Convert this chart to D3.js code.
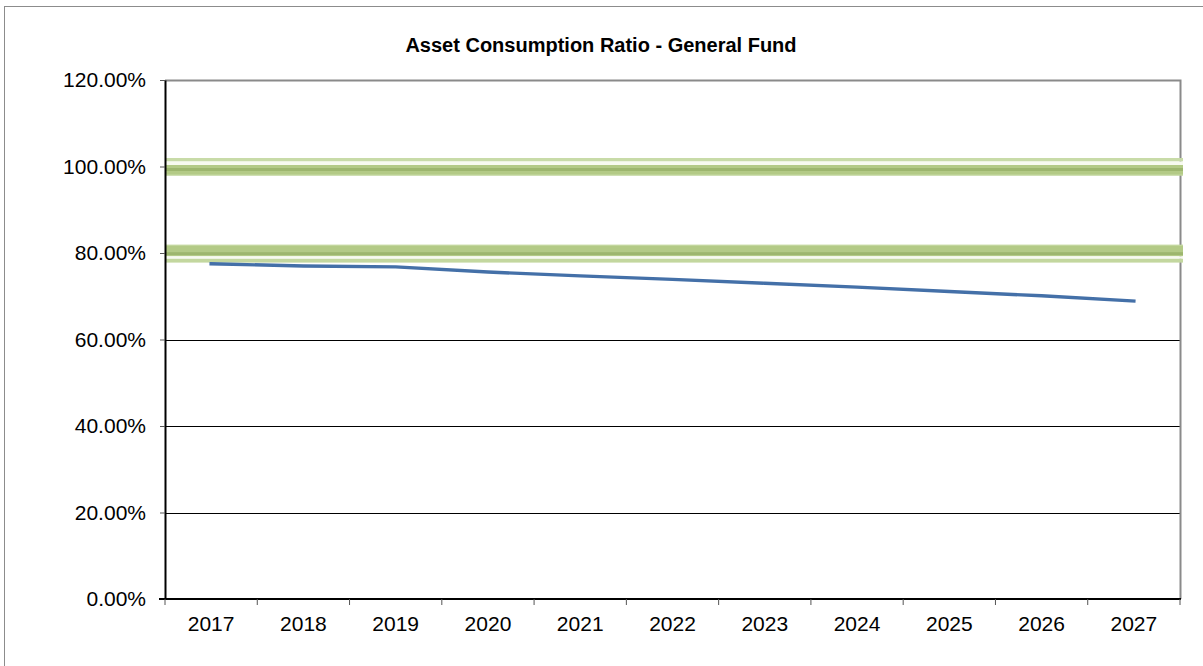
<!DOCTYPE html>
<html>
<head>
<meta charset="utf-8">
<script src="https://cdn.jsdelivr.net/npm/d3@7"></script>
<style>
  html, body { margin: 0; padding: 0; background: #fff; }
  svg { display: block; font-family: "Liberation Sans", Arial, sans-serif; }
</style>
</head>
<body>
<svg id="chart" width="1203" height="666"></svg>
<script>
// Years along the category axis
const years = ["2017","2018","2019","2020","2021","2022","2023","2024","2025","2026","2027"];
// Asset consumption ratio per year (fraction)
const ratio = [0.775, 0.770, 0.768, 0.756, 0.747, 0.739, 0.730, 0.721, 0.711, 0.701, 0.689];
// Benchmark band levels
const benchmarks = [1.00, 0.80];
// Value axis ticks
const yTicks = [0, 0.2, 0.4, 0.6, 0.8, 1.0, 1.2];

const svg = d3.select("#chart");
const W = 1203, H = 666;
const plot = { left: 165, right: 1180, top: 80, bottom: 599 };

// outer chart frame
svg.append("rect")
  .attr("x", 4.5).attr("y", 6.5)
  .attr("width", W + 10).attr("height", H + 10)
  .attr("fill", "#fff").attr("stroke", "#8c8c8c").attr("stroke-width", 1);

const x = d3.scaleBand().domain(years).range([plot.left, plot.right]).padding(0);
const y = d3.scaleLinear().domain([0, 1.2]).range([plot.bottom, plot.top]);

// title
svg.append("text")
  .attr("x", 601).attr("y", 52)
  .attr("text-anchor", "middle")
  .attr("font-weight", "bold")
  .attr("font-size", 20)
  .attr("fill", "#000")
  .text("Asset Consumption Ratio - General Fund");

// horizontal gridlines
svg.append("g").selectAll("line")
  .data(yTicks.filter(d => d > 0 && d < 1.2))
  .join("line")
  .attr("x1", plot.left).attr("x2", plot.right)
  .attr("y1", d => Math.round(y(d)) + 0.5).attr("y2", d => Math.round(y(d)) + 0.5)
  .attr("stroke", "#000").attr("stroke-width", 1);

// plot area border (top & right in grey)
svg.append("path")
  .attr("d", `M${plot.left},${plot.top + 0.5} H${plot.right + 0.5} V${plot.bottom}`)
  .attr("fill", "none").attr("stroke", "#8a8a8a").attr("stroke-width", 2);

// benchmark bands: layered stripes (offsets from the level, in px)
const bandLayers = [
  // upper benchmark: pale edge, highlight above, body below with darker core
  [
    { y0: -8.5, y1: -5.0, fill: "#c8dba8" },
    { y0: -5.0, y1: -1.5, fill: "#f7faef" },
    { y0: -1.5, y1:  9.0, fill: "#b3ca86" },
    { y0:  1.5, y1:  4.5, fill: "#9db66e" },
    { y0:  8.0, y1:  9.0, fill: "#c6d9a4" }
  ],
  // lower benchmark: body above with darker core, highlight below, pale edge
  [
    { y0: -8.2, y1:  3.3, fill: "#b3ca86" },
    { y0: -8.2, y1: -7.2, fill: "#c6d9a4" },
    { y0: -0.8, y1:  2.0, fill: "#9db66e" },
    { y0:  3.3, y1:  5.8, fill: "#f7faef" },
    { y0:  5.8, y1:  9.6, fill: "#c3d79f" }
  ]
];
const bandRight = plot.right + 3;
const bands = svg.append("g");
benchmarks.forEach((v, i) => {
  const cy = y(v);
  bands.append("g").selectAll("rect")
    .data(bandLayers[i])
    .join("rect")
    .attr("x", plot.left)
    .attr("width", bandRight - plot.left)
    .attr("y", d => cy + d.y0)
    .attr("height", d => d.y1 - d.y0)
    .attr("fill", d => d.fill);
});

// y axis
const yAxis = d3.axisLeft(y).tickValues(yTicks)
  .tickFormat(d => (d * 100).toFixed(2) + "%")
  .tickSize(5).tickSizeOuter(0).tickPadding(14);
const gy = svg.append("g").attr("transform", `translate(${plot.left},0)`).call(yAxis);
gy.select(".domain").attr("stroke", "#000").attr("stroke-width", 2);
gy.selectAll(".tick line").attr("stroke", "#555");
gy.selectAll(".tick text").attr("font-size", 21).attr("fill", "#000")
  .attr("font-family", "Liberation Sans, Arial, sans-serif");

// x axis with ticks at category boundaries
const gx = svg.append("g").attr("transform", `translate(0,${plot.bottom})`);
gx.append("line")
  .attr("x1", plot.left - 6).attr("x2", plot.right + 1)
  .attr("y1", 0).attr("y2", 0)
  .attr("stroke", "#000").attr("stroke-width", 2);
const bounds = years.map(d => x(d)).concat([x(years[years.length - 1]) + x.bandwidth()]);
gx.selectAll("line.tk").data(bounds).join("line").attr("class", "tk")
  .attr("x1", d => d).attr("x2", d => d)
  .attr("y1", 0).attr("y2", 6)
  .attr("stroke", "#555").attr("stroke-width", 1);
gx.selectAll("text").data(years).join("text")
  .attr("x", d => x(d) + x.bandwidth() / 2)
  .attr("y", 32)
  .attr("text-anchor", "middle")
  .attr("font-size", 21).attr("fill", "#000")
  .text(d => d);

// ratio line
const line = d3.line()
  .x((d, i) => x(years[i]) + x.bandwidth() / 2)
  .y(d => y(d));
svg.append("path")
  .datum(ratio)
  .attr("d", line)
  .attr("fill", "none")
  .attr("stroke", "#4470a8")
  .attr("stroke-width", 3.4)
  .attr("stroke-linecap", "square");
</script>
</body>
</html>
